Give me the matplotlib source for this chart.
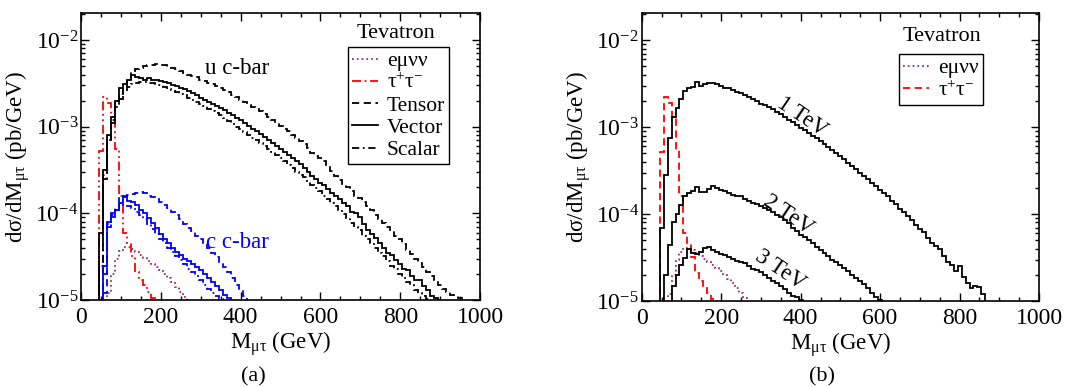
import numpy as np
import matplotlib
matplotlib.use('Agg')
import matplotlib.pyplot as plt
from matplotlib.ticker import MultipleLocator, LogLocator, NullFormatter

plt.rcParams['font.family'] = ['Liberation Serif', 'DejaVu Serif']
plt.rcParams['mathtext.fontset'] = 'custom'
plt.rcParams['mathtext.rm'] = 'Liberation Serif'
plt.rcParams['mathtext.it'] = 'Liberation Serif:italic'
plt.rcParams['mathtext.bf'] = 'Liberation Serif:bold'

BIN = 10.0

# ---- panel (a): u c-bar and c c-bar, three couplings (values in pb/GeV, 10 GeV bins)
uc_start = 45
uc_vector = [6.0e-5, 3.2e-4, 8.0e-4, 1.3e-3, 2.0e-3, 2.8e-3, 3.1e-3, 3.5e-3, 3.9e-3, 3.7e-3,
             3.6e-3, 3.5e-3, 3.6e-3, 3.5e-3, 3.45e-3, 3.4e-3, 3.3e-3, 3.15e-3, 3.05e-3, 2.95e-3,
             2.8e-3, 2.7e-3, 2.55e-3, 2.45e-3, 2.3e-3, 2.15e-3, 2.05e-3, 1.95e-3, 1.85e-3, 1.75e-3,
             1.65e-3, 1.55e-3, 1.45e-3, 1.35e-3, 1.25e-3, 1.18e-3, 1.1e-3, 1.02e-3, 9.4e-4, 8.8e-4,
             8.2e-4, 7.6e-4, 7.0e-4, 6.5e-4, 6.0e-4, 5.6e-4, 5.1e-4, 4.7e-4, 4.3e-4, 4.0e-4,
             3.7e-4, 3.3e-4, 3.0e-4, 2.7e-4, 2.5e-4, 2.25e-4, 2.1e-4, 1.9e-4, 1.7e-4, 1.6e-4,
             1.45e-4, 1.3e-4, 1.2e-4, 1.05e-4, 1.0e-4, 9.0e-5, 7.5e-5, 6.5e-5, 5.8e-5, 5.2e-5,
             4.5e-5, 4.0e-5, 3.5e-5, 3.3e-5, 2.9e-5, 2.6e-5, 2.3e-5, 2.2e-5, 1.9e-5, 1.7e-5,
             1.7e-5, 1.45e-5, 1.3e-5, 1.1e-5, 1.05e-5]
uc_tensor = [2.0e-5, 2.5e-4, 7.0e-4, 1.2e-3, 1.9e-3, 2.4e-3, 2.9e-3, 3.4e-3, 4.4e-3, 4.6e-3,
             4.8e-3, 5.0e-3, 5.1e-3, 5.2e-3, 5.3e-3, 5.2e-3, 5.1e-3, 4.9e-3, 4.8e-3, 4.6e-3,
             4.4e-3, 4.2e-3, 4.0e-3, 3.8e-3, 3.7e-3, 3.5e-3, 3.4e-3, 3.2e-3, 3.1e-3, 2.95e-3,
             2.8e-3, 2.65e-3, 2.5e-3, 2.35e-3, 2.2e-3, 2.05e-3, 1.95e-3, 1.8e-3, 1.7e-3, 1.6e-3,
             1.5e-3, 1.4e-3, 1.3e-3, 1.2e-3, 1.1e-3, 1.03e-3, 9.5e-4, 8.8e-4, 8.0e-4, 7.5e-4,
             6.9e-4, 6.3e-4, 5.7e-4, 5.0e-4, 4.6e-4, 4.3e-4, 4.0e-4, 3.6e-4, 3.1e-4, 2.7e-4,
             2.4e-4, 2.2e-4, 2.0e-4, 1.8e-4, 1.6e-4, 1.5e-4, 1.35e-4, 1.2e-4, 1.1e-4, 9.5e-5,
             8.5e-5, 7.8e-5, 7.0e-5, 6.2e-5, 5.5e-5, 5.0e-5, 4.4e-5, 3.8e-5, 3.4e-5, 3.0e-5,
             2.7e-5, 2.4e-5, 2.1e-5, 1.9e-5, 1.7e-5, 1.5e-5, 1.35e-5, 1.25e-5, 1.15e-5, 1.1e-5,
             1.05e-5]
uc_scalar = [2.5e-5, 2.8e-4, 7.0e-4, 1.1e-3, 1.7e-3, 2.1e-3, 2.6e-3, 2.9e-3, 3.1e-3, 3.2e-3,
             3.3e-3, 3.25e-3, 3.2e-3, 3.15e-3, 3.05e-3, 3.0e-3, 2.85e-3, 2.75e-3, 2.65e-3, 2.5e-3,
             2.4e-3, 2.3e-3, 2.15e-3, 2.05e-3, 1.95e-3, 1.85e-3, 1.72e-3, 1.62e-3, 1.52e-3, 1.42e-3,
             1.35e-3, 1.25e-3, 1.15e-3, 1.08e-3, 1.0e-3, 9.4e-4, 8.7e-4, 8.1e-4, 7.5e-4, 7.0e-4,
             6.5e-4, 6.0e-4, 5.5e-4, 5.1e-4, 4.7e-4, 4.3e-4, 4.0e-4, 3.6e-4, 3.3e-4, 3.0e-4,
             2.8e-4, 2.6e-4, 2.35e-4, 2.15e-4, 1.95e-4, 1.8e-4, 1.6e-4, 1.45e-4, 1.3e-4, 1.2e-4,
             1.1e-4, 9.8e-5, 8.8e-5, 7.8e-5, 7.0e-5, 6.5e-5, 5.5e-5, 5.0e-5, 4.5e-5, 4.0e-5,
             3.5e-5, 3.2e-5, 2.8e-5, 2.5e-5, 2.3e-5, 2.0e-5, 1.8e-5, 1.6e-5, 1.5e-5, 1.3e-5,
             1.2e-5, 1.1e-5, 1.02e-5]

cc_start = 55
cc_vector = [2.5e-5, 8.0e-5, 1.0e-4, 1.1e-4, 1.3e-4, 1.55e-4, 1.4e-4, 1.35e-4, 1.25e-4, 1.1e-4,
             1.0e-4, 8.8e-5, 7.8e-5, 6.8e-5, 5.8e-5, 5.0e-5, 4.5e-5, 4.0e-5, 3.6e-5, 3.3e-5,
             3.0e-5, 2.8e-5, 2.6e-5, 2.4e-5, 2.2e-5, 2.0e-5, 1.8e-5, 1.6e-5, 1.45e-5, 1.3e-5,
             1.15e-5, 1.05e-5]
cc_tensor = [1.2e-5, 7.0e-5, 9.5e-5, 1.1e-4, 1.5e-4, 1.6e-4, 1.62e-4, 1.65e-4, 1.7e-4, 1.75e-4,
             1.7e-4, 1.6e-4, 1.55e-4, 1.45e-4, 1.35e-4, 1.25e-4, 1.15e-4, 1.05e-4, 9.5e-5, 8.5e-5,
             7.5e-5, 6.8e-5, 6.2e-5, 5.5e-5, 5.0e-5, 4.5e-5, 4.0e-5, 3.5e-5, 3.1e-5, 2.7e-5,
             2.4e-5, 2.1e-5, 1.8e-5, 1.5e-5, 1.3e-5, 1.1e-5]
cc_scalar = [2.0e-5, 7.5e-5, 9.0e-5, 1.15e-4, 1.3e-4, 1.25e-4, 1.2e-4, 1.15e-4, 1.05e-4, 9.5e-5,
             8.5e-5, 7.5e-5, 6.6e-5, 5.8e-5, 5.1e-5, 4.5e-5, 4.0e-5, 3.6e-5, 3.2e-5, 2.9e-5,
             2.6e-5, 2.3e-5, 2.1e-5, 1.9e-5, 1.7e-5, 1.5e-5, 1.35e-5, 1.2e-5, 1.1e-5, 1.02e-5]

# ---- backgrounds (both panels)
tautau_start = 45
tautau = [5.2e-4, 2.2e-3, 1.9e-3, 1.3e-3, 5.5e-4, 1.6e-4, 6.0e-5, 4.5e-5, 3.2e-5, 2.1e-5,
          1.7e-5, 1.5e-5, 1.25e-5, 1.05e-5]
emunn_start = 65
emunn = [1.2e-5, 2.0e-5, 3.0e-5, 3.7e-5, 4.1e-5, 4.1e-5, 3.9e-5, 3.6e-5, 3.3e-5, 3.05e-5,
         2.8e-5, 2.6e-5, 2.4e-5, 2.2e-5, 2.0e-5, 1.8e-5, 1.6e-5, 1.42e-5, 1.25e-5, 1.08e-5]

# ---- panel (b): vector, three masses
tev1_start = 45
tev1 = [7.0e-5, 2.8e-4, 7.4e-4, 1.3e-3, 1.65e-3, 2.1e-3, 2.6e-3, 2.8e-3, 2.9e-3, 3.3e-3,
        2.95e-3, 3.1e-3, 3.2e-3, 3.2e-3, 3.1e-3, 2.95e-3, 2.85e-3, 2.8e-3, 2.65e-3, 2.55e-3,
        2.45e-3, 2.35e-3, 2.2e-3, 2.1e-3, 2.0e-3, 1.85e-3, 1.78e-3, 1.7e-3, 1.6e-3, 1.5e-3,
        1.4e-3, 1.3e-3, 1.22e-3, 1.15e-3, 1.05e-3, 9.8e-4, 9.2e-4, 8.6e-4, 8.0e-4, 7.5e-4,
        6.9e-4, 6.4e-4, 5.9e-4, 5.5e-4, 5.0e-4, 4.6e-4, 4.3e-4, 3.9e-4, 3.6e-4, 3.3e-4,
        3.0e-4, 2.75e-4, 2.5e-4, 2.3e-4, 2.1e-4, 1.9e-4, 1.75e-4, 1.6e-4, 1.42e-4, 1.3e-4,
        1.15e-4, 1.05e-4, 9.5e-5, 8.5e-5, 7.5e-5, 6.8e-5, 6.2e-5, 5.3e-5, 4.7e-5, 4.3e-5,
        4.0e-5, 3.3e-5, 2.8e-5, 2.6e-5, 2.2e-5, 2.5e-5, 1.9e-5, 1.6e-5, 1.4e-5, 1.5e-5,
        1.45e-5, 1.2e-5]
tev2_start = 55
tev2 = [2.0e-5, 4.4e-5, 8.0e-5, 1.0e-4, 1.26e-4, 1.6e-4, 1.75e-4, 1.85e-4, 2.05e-4, 1.8e-4,
        1.8e-4, 1.95e-4, 2.1e-4, 2.0e-4, 1.9e-4, 1.85e-4, 1.75e-4, 1.65e-4, 1.6e-4, 1.6e-4,
        1.5e-4, 1.42e-4, 1.35e-4, 1.3e-4, 1.25e-4, 1.18e-4, 1.1e-4, 1.05e-4, 9.8e-5, 9.2e-5,
        8.5e-5, 7.8e-5, 7.0e-5, 6.4e-5, 5.8e-5, 5.4e-5, 5.0e-5, 4.6e-5, 4.2e-5, 3.9e-5,
        3.6e-5, 3.3e-5, 3.0e-5, 2.8e-5, 2.6e-5, 2.4e-5, 2.2e-5, 2.0e-5, 1.85e-5, 1.7e-5,
        1.55e-5, 1.4e-5, 1.25e-5, 1.12e-5, 1.03e-5]
tev3_start = 75
tev3 = [1.5e-5, 2.0e-5, 2.6e-5, 3.1e-5, 4.0e-5, 3.6e-5, 3.5e-5, 3.7e-5, 4.1e-5, 4.2e-5,
        3.9e-5, 3.7e-5, 3.5e-5, 3.35e-5, 3.2e-5, 3.05e-5, 2.9e-5, 2.8e-5, 2.7e-5, 2.5e-5,
        2.35e-5, 2.25e-5, 2.15e-5, 2.0e-5, 1.85e-5, 1.7e-5, 1.6e-5, 1.5e-5, 1.38e-5, 1.25e-5,
        1.15e-5, 1.1e-5, 1.02e-5]

PURPLE = '#993366'
DASH = (0, (4, 2.5))
DASHDOT = (0, (4, 2, 1, 2))


def hist(ax, start, values, **kw):
    values = np.asarray(values)
    edges = start + BIN * np.arange(len(values) + 1)
    ax.stairs(values, edges, baseline=1e-8, **kw)


def style_axes(ax):
    ax.set_yscale('log')
    ax.set_xlim(0, 1000)
    ax.set_ylim(1e-5, 2.05e-2)
    ax.xaxis.set_major_locator(MultipleLocator(200))
    ax.xaxis.set_minor_locator(MultipleLocator(50))
    ax.yaxis.set_major_locator(LogLocator(base=10, numticks=10))
    ax.yaxis.set_minor_locator(LogLocator(base=10, subs=np.arange(2, 10), numticks=10))
    ax.yaxis.set_minor_formatter(NullFormatter())
    ax.tick_params(which='both', direction='in', top=True, right=True, labelsize=17, width=1.0)
    ax.tick_params(which='major', length=6)
    ax.tick_params(which='minor', length=3)
    ax.tick_params(axis='x', pad=5)
    ax.tick_params(axis='y', pad=2)
    for s in ax.spines.values():
        s.set_linewidth(1.2)
    ax.set_xlabel(r'M$_{\mathrm{μτ}}$ (GeV)', fontsize=16.5, labelpad=1)
    ax.set_ylabel(r'dσ/dM$_{\mathrm{μτ}}$ (pb/GeV)', fontsize=16.5, labelpad=2)


def make_legend(ax, handles, anchor):
    leg = ax.legend(handles=handles, loc='upper left', bbox_to_anchor=anchor,
                    borderaxespad=0, fontsize=15.5, handlelength=1.2, handletextpad=0.4,
                    labelspacing=0.1, borderpad=0.2, fancybox=False, framealpha=1)
    leg.get_frame().set_edgecolor('black')
    leg.get_frame().set_linewidth(1.0)
    return leg


fig = plt.figure(figsize=(10.82, 3.87), dpi=100)
axa = fig.add_axes([0.0749, 0.2248, 0.3688, 0.7416])
axb = fig.add_axes([0.5931, 0.2222, 0.3672, 0.7442])

lw = 1.3
# panel (a)
l_e, = axa.plot([], [], color=PURPLE, ls=':', lw=lw, label='eμνν')
hist(axa, emunn_start, emunn, color=PURPLE, ls=':', lw=lw)
l_t, = axa.plot([], [], color='red', ls=(0, (5, 2, 1, 2)), lw=lw, label=r'τ$^{+}$τ$^{-}$')
hist(axa, tautau_start, tautau, color='red', ls=(0, (5, 2, 1, 2, 1, 2)), lw=lw)
l_ten, = axa.plot([], [], color='black', ls=DASH, lw=lw, label='Tensor')
l_vec, = axa.plot([], [], color='black', ls='-', lw=lw, label='Vector')
l_sca, = axa.plot([], [], color='black', ls=DASHDOT, lw=lw, label='Scalar')

for col, start, ten, vec, sca in [('black', uc_start, uc_tensor, uc_vector, uc_scalar),
                                  ('blue', cc_start, cc_tensor, cc_vector, cc_scalar)]:
    hist(axa, start, ten, color=col, ls=DASH, lw=lw)
    hist(axa, start, vec, color=col, ls='-', lw=lw)
    hist(axa, start, sca, color=col, ls=DASHDOT, lw=lw)

axa.text(311, 4.7e-3, 'u c-bar', fontsize=16.5, va='center', ha='left')
axa.text(312, 4.6e-5, 'c c-bar', fontsize=16.5, va='center', ha='left', color='blue')
axa.text(0.789, 0.93, 'Tevatron', transform=axa.transAxes, fontsize=16, ha='center', va='center')
make_legend(axa, [l_e, l_t, l_ten, l_vec, l_sca], (0.669, 0.882))

# panel (b)
r_e, = axb.plot([], [], color=PURPLE, ls=':', lw=lw, label='eμνν')
hist(axb, emunn_start, emunn, color=PURPLE, ls=':', lw=lw)
r_t, = axb.plot([], [], color='red', ls=DASH, lw=lw, label=r'τ$^{+}$τ$^{-}$')
hist(axb, tautau_start, tautau, color='red', ls=DASH, lw=lw)
hist(axb, tev1_start, tev1, color='black', lw=lw)
hist(axb, tev2_start, tev2, color='black', lw=lw)
hist(axb, tev3_start, tev3, color='black', lw=lw)

axb.text(403, 1.3e-3, '1 TeV', fontsize=16.5, rotation=-34, ha='center', va='center')
axb.text(368, 9.7e-5, '2 TeV', fontsize=16.5, rotation=-34, ha='center', va='center')
axb.text(348, 2.3e-5, '3 TeV', fontsize=16.5, rotation=-34, ha='center', va='center')
axb.text(0.756, 0.917, 'Tevatron', transform=axb.transAxes, fontsize=16, ha='center', va='center')
make_legend(axb, [r_e, r_t], (0.648, 0.858))

style_axes(axa)
style_axes(axb)

fig.text(253 / 1082, 1 - 377 / 387, '(a)', fontsize=16, ha='center', va='center')
fig.text(822 / 1082, 1 - 377 / 387, '(b)', fontsize=16, ha='center', va='center')

fig.savefig('out.png', dpi=100)
